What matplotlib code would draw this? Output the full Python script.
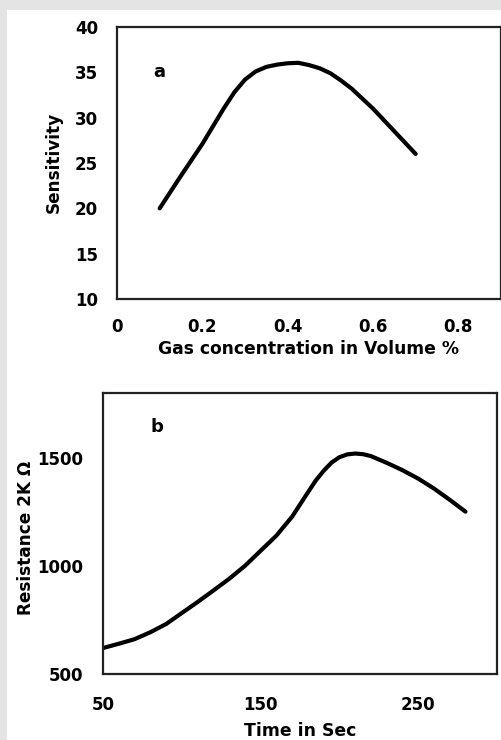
import matplotlib
matplotlib.use('Agg')
import matplotlib.pyplot as plt
from matplotlib.patches import Rectangle

plt.rcParams['font.family'] = ['DejaVu Sans']
plt.rcParams['font.weight'] = 'bold'

# panel a: sensitivity vs gas concentration
conc = [0.10, 0.15, 0.20, 0.25, 0.275, 0.30, 0.325, 0.35, 0.375, 0.40, 0.425,
        0.45, 0.475, 0.50, 0.525, 0.55, 0.60, 0.65, 0.70]
sens = [20.0, 23.6, 27.1, 31.0, 32.8, 34.2, 35.1, 35.6, 35.85, 36.0, 36.05,
        35.8, 35.45, 34.9, 34.1, 33.2, 31.0, 28.5, 26.0]
a_xticks = [0, 0.2, 0.4, 0.6, 0.8]
a_xlabels = ['0', '0.2', '0.4', '0.6', '0.8']
a_yticks = [10, 15, 20, 25, 30, 35, 40]

# panel b: resistance vs time
t_sec = [50, 60, 70, 80, 90, 100, 110, 120, 130, 140, 150, 160, 170, 180,
         185, 190, 195, 200, 205, 210, 215, 220, 230, 240, 250, 260, 270, 280]
resist = [620, 640, 661, 693, 731, 782, 833, 886, 940, 1000, 1070, 1140, 1228,
          1340, 1395, 1440, 1478, 1503, 1516, 1520, 1517, 1508, 1477, 1443,
          1404, 1358, 1306, 1251]
b_xticks = [50, 150, 250]
b_yticks = [500, 1000, 1500]

W, H = 501, 740
fig = plt.figure(figsize=(W / 100, H / 100), dpi=100)
fig.patch.set_facecolor('white')
# grey page edge
fig.patches.append(Rectangle((0, 1 - 10 / H), 1, 10 / H, transform=fig.transFigure,
                             facecolor='#e4e4e4', edgecolor='none', zorder=-1))
fig.patches.append(Rectangle((0, 0), 7 / W, 1, transform=fig.transFigure,
                             facecolor='#e4e4e4', edgecolor='none', zorder=-1))


def px_axes(left, top, right, bottom):
    return fig.add_axes([left / W, 1 - bottom / H, (right - left) / W, (bottom - top) / H])


bwith = 1.6
tsize = 12

ax1 = px_axes(117, 27, 501, 299)
ax1.plot(conc, sens, c='black', lw=3.0, solid_capstyle='round', solid_joinstyle='round')
ax1.set_xlim(0, 0.9)
ax1.set_ylim(10, 40)
ax1.set_xticks(a_xticks)
ax1.set_xticklabels(a_xlabels)
ax1.set_yticks(a_yticks)
ax1.tick_params(axis='x', length=0, pad=14, labelsize=tsize)
ax1.tick_params(axis='y', length=0, pad=13.5, labelsize=tsize)
ax1.set_xlabel('Gas concentration in Volume %', fontsize=12.3, fontweight='bold')
ax1.xaxis.set_label_coords(0.5, -0.152)
ax1.set_ylabel('Sensitivity', fontsize=12.2, fontweight='bold')
ax1.yaxis.set_label_coords(-0.14, 0.502)
ax1.text(0.085, 35, 'a', fontsize=13, fontweight='bold', va='center')

ax2 = px_axes(103, 393, 497, 674)
ax2.plot(t_sec, resist, c='black', lw=3.0, solid_capstyle='round', solid_joinstyle='round')
ax2.set_xlim(50, 300)
ax2.set_ylim(500, 1800)
ax2.set_xticks(b_xticks)
ax2.set_yticks(b_yticks)
ax2.tick_params(axis='x', length=0, pad=16, labelsize=tsize)
ax2.tick_params(axis='y', length=0, pad=14.4, labelsize=tsize)
ax2.set_xlabel('Time in Sec', fontsize=12.4, fontweight='bold')
ax2.xaxis.set_label_coords(0.5, -0.172)
ax2.set_ylabel('Resistance 2K Ω', fontsize=12.2, fontweight='bold')
ax2.yaxis.set_label_coords(-0.173, 0.486)
ax2.text(80, 1645, 'b', fontsize=13, fontweight='bold', va='center')

for ax in [ax1, ax2]:
    for s in ['top', 'bottom', 'left', 'right']:
        ax.spines[s].set_linewidth(bwith)
        ax.spines[s].set_color('#222222')

fig.savefig('out.png', dpi=100)
